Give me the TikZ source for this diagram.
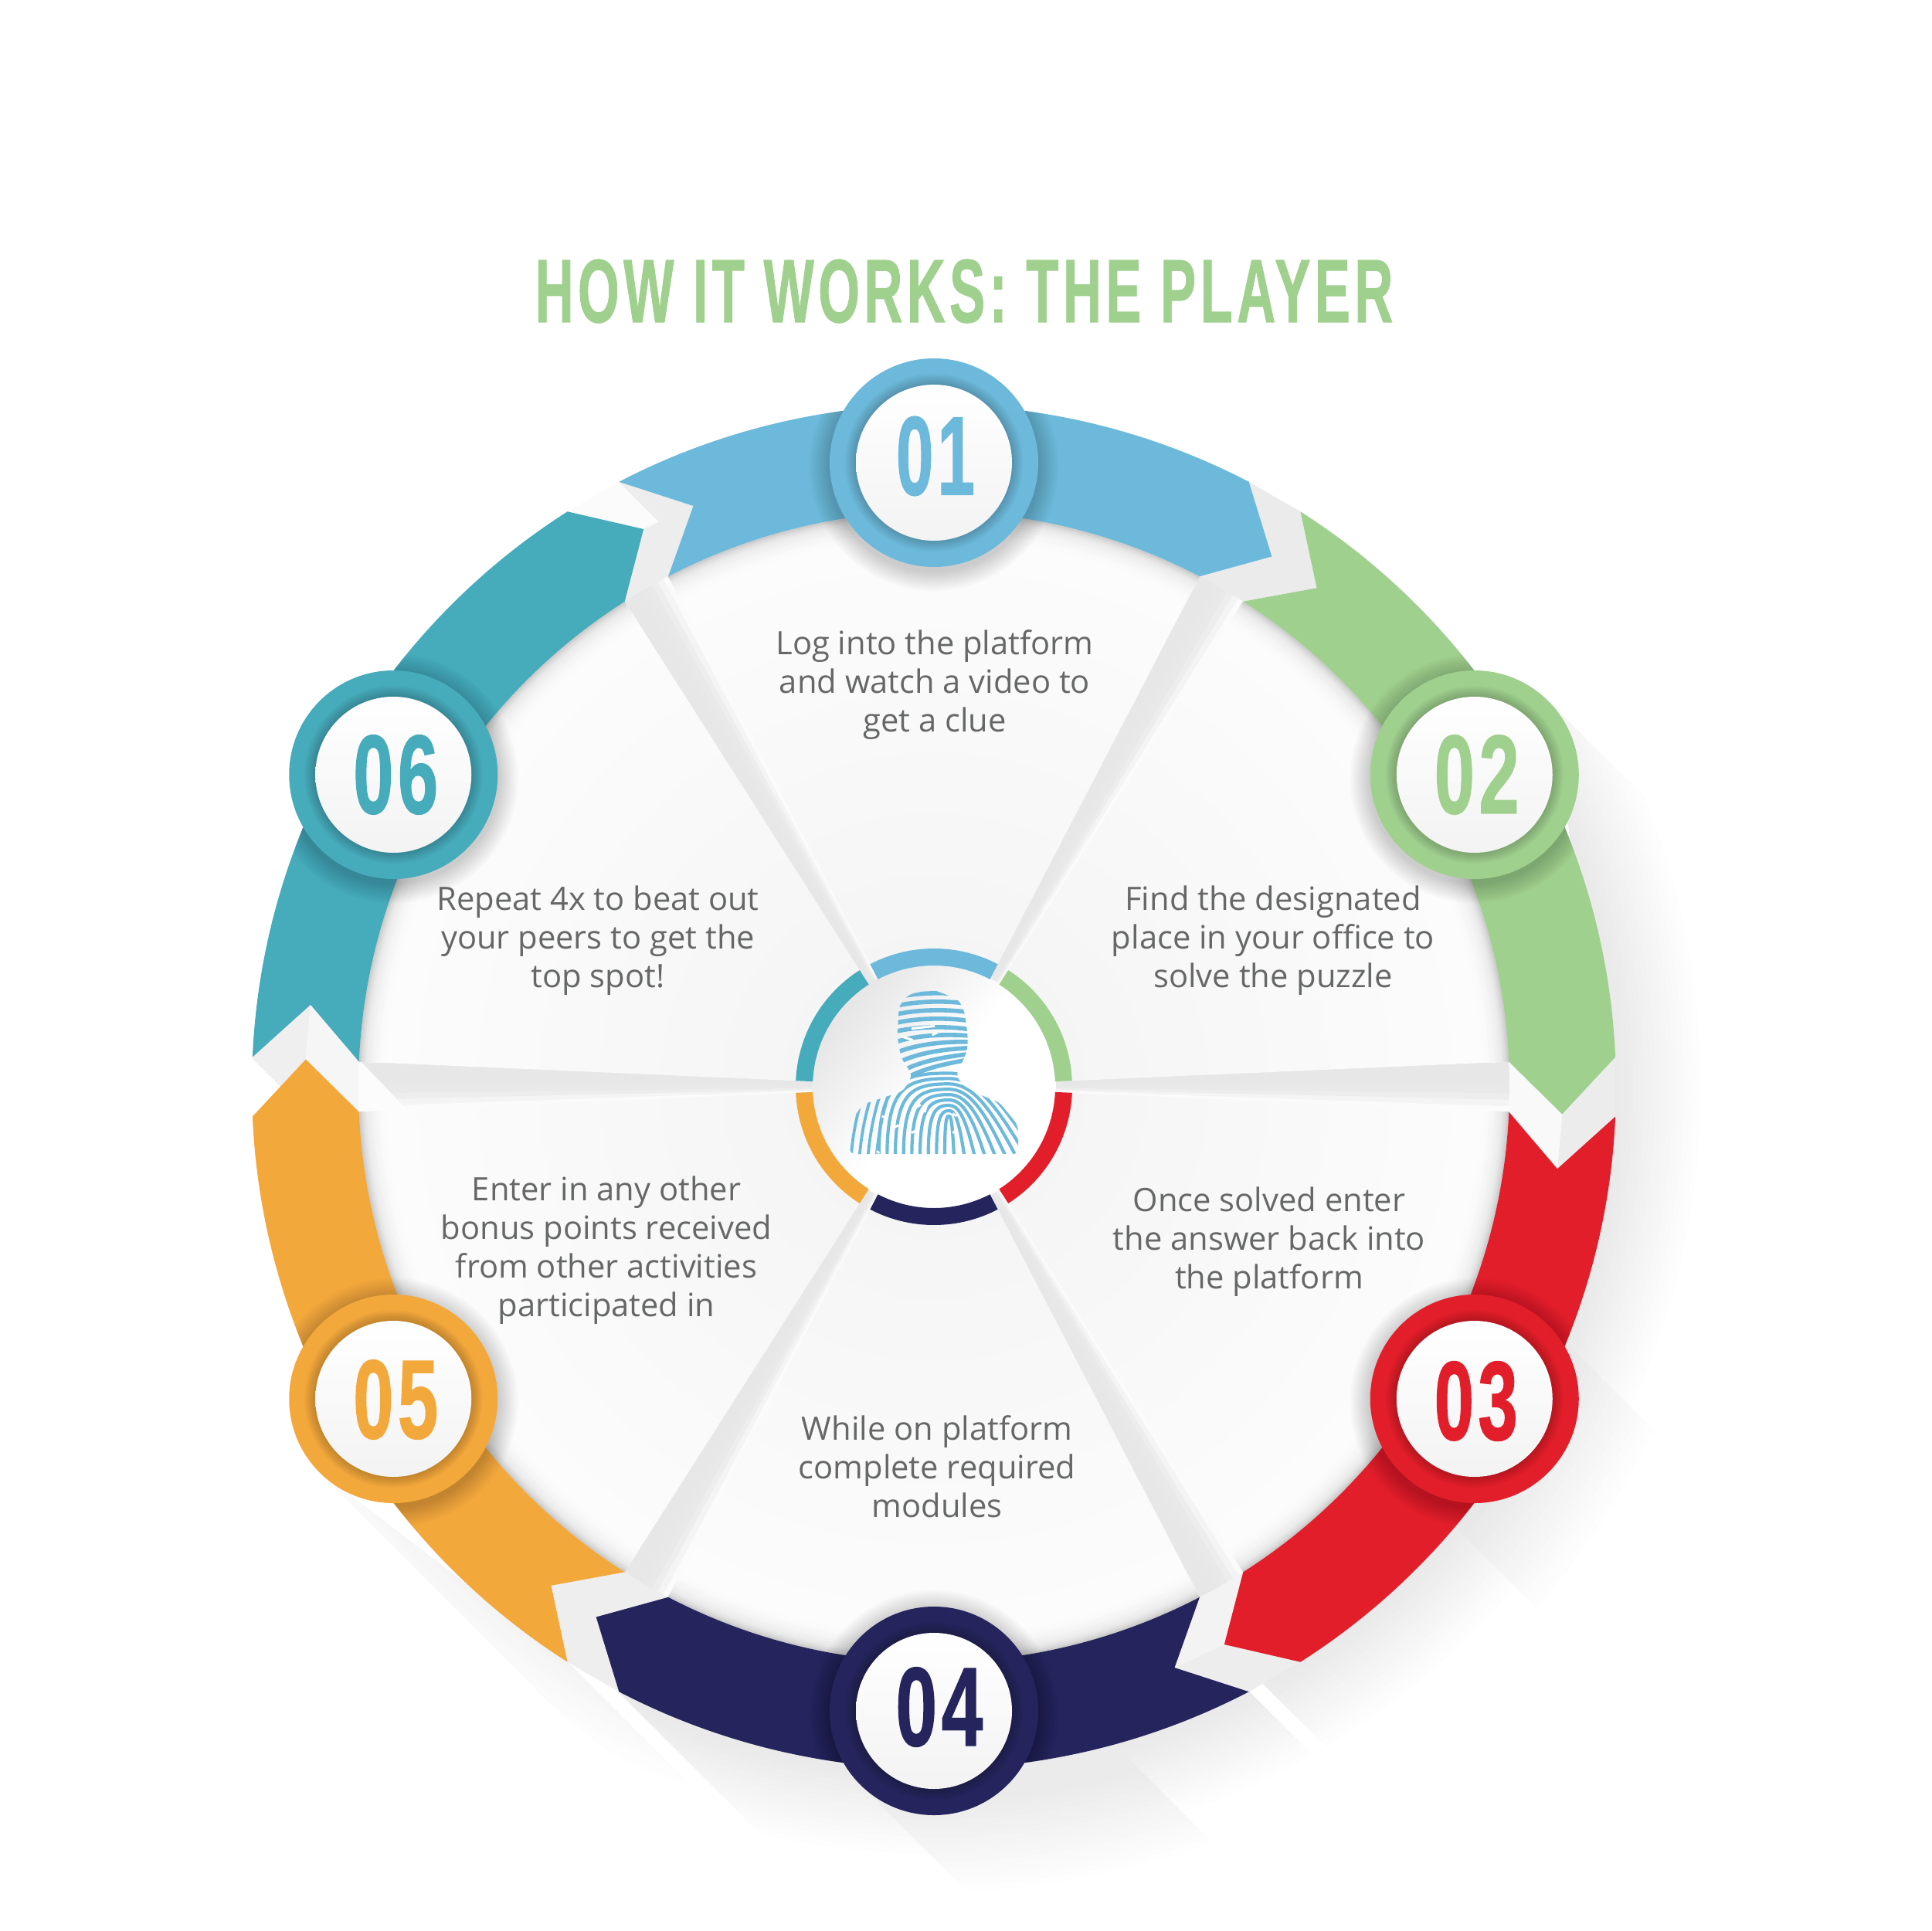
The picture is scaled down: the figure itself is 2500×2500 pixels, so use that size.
\documentclass[tikz,border=0pt]{standalone}
\usepackage{fontspec}
\usepackage{graphicx}
\usetikzlibrary{calc}
\setmainfont{Open Sans}
\newfontfamily\headfont[FakeBold=1.2,LetterSpace=8]{Liberation Sans Bold}
\newfontfamily\numfont[FakeBold=1.2,LetterSpace=6]{Liberation Sans Bold}
\definecolor{cOne}{HTML}{6CB9DB}
\definecolor{cTwo}{HTML}{A0D08E}
\definecolor{cThree}{HTML}{E31E2B}
\definecolor{cFour}{HTML}{25245D}
\definecolor{cFive}{HTML}{F3A83C}
\definecolor{cSix}{HTML}{46ABBB}
\definecolor{bodytext}{HTML}{666767}
\definecolor{F4}{HTML}{F3F3F3}
\tikzset{
  ribbonfill/.style={fill=#1,draw=none},
  bodylabel/.style={text=bodytext,align=center,inner sep=0pt,font=\fontsize{41.7}{50}\selectfont},
  badgeouter/.style={circle,fill=#1,minimum size=270pt,inner sep=0pt},
  badgeinner/.style={circle,top color=white,bottom color=F4,minimum size=202pt,inner sep=0pt},
  digitlabel/.style={text=#1,inner sep=0pt},
}
\newcommand{\longshade}[5]{% P, Q, Rmax, Rmin (all relative to the hub), strength
  \begin{scope}
    \clip (#1) -- ($(#1)+(320,-320)$) -- ($(#2)+(320,-320)$) -- (#2) -- cycle;
    \foreach \i in {0,...,16}{
      \pgfmathsetmacro{\rr}{#3-(#3-#4)*\i/16}
      \pgfmathsetmacro{\pp}{#5*\i/16}
      \fill[black!\pp!white] (0,0) circle[radius=\rr pt];
    }
  \end{scope}
}
\newcommand{\ribbonshape}[2]{% colour, start angle
  \pgfmathsetmacro{\ra}{#2}
  \pgfmathsetmacro{\rb}{#2-55}
  \pgfmathsetmacro{\rt}{#2-60}
  \pgfmathsetmacro{\rn}{#2-5}
  \fill[ribbonfill=#1] (\ra:883) arc[start angle=\ra,end angle=\rb,radius=883pt]
    -- (\rt:814) -- (\rb:745) arc[start angle=\rb,end angle=\ra,radius=745pt]
    -- (\rn:814) -- cycle;
}
\begin{document}
\begin{tikzpicture}[x=1pt,y=1pt]
\useasboundingbox (0,-2500) rectangle (2500,0);
\fill[white] (0,-2500) rectangle (2500,0);

\node[inner sep=0pt,text=cTwo] (title) at (1248,-377)
  {\resizebox{1110pt}{81pt}{\headfont HOW IT WORKS: THE PLAYER}};

\begin{scope}[shift={(1209,-1407)}]
  % long soft shadows on the paper
  \longshade{795,499}{882,-33}{1000}{883}{9}
  \longshade{882,-33}{376,-722}{1000}{883}{9}
  \longshade{795,-309}{605,-499}{1040}{900}{9}
  \longshade{408,-783}{-408,-783}{1000}{883}{9}
  \longshade{95,-713}{-95,-903}{1050}{925}{8}
  \longshade{-474,-745}{-795,-499}{965}{883}{4.5}

  % chevron gaps between ribbons
  \foreach \t/\co/\ci in {0/ECECEC/F9F9F9,60/EBEBEB/EBEBEB,120/FBFBFB/EDEDED,180/EFEFEF/F6F6F6,240/EEEEEE/EEEEEE,300/EDEDED/F3F3F3}{
    \begin{scope}[rotate=\t]
      \definecolor{tmpO}{HTML}{\co}\definecolor{tmpI}{HTML}{\ci}
      \fill[tmpO] (2.5:883) -- (-2.5:814) -- (-7.5:814) -- (-2.5:883) -- cycle;
      \fill[tmpI] (2.5:745) -- (-2.5:814) -- (-7.5:814) -- (-2.5:745) -- cycle;
    \end{scope}
  }
  % the grey stripe of the upper-left gap, and the white tail of the left gap
  \fill[black!7!white] (-408,783) -- (-311,752) -- (-335,710) -- cycle;
  \fill[white] (-884,38) -- (-884,-40) -- (-844,-2) -- cycle;
  % wedge channels between panels, darker on the upper-left side
  \foreach \t/\s in {0/1,60/1,120/1,180/-1,240/-1,300/-1}{
    \begin{scope}[rotate=\t]
      \foreach \k/\g in {0/90.5,1/90.5,2/90.5,3/91,4/91.5,5/93,6/95.5,7/98.5}{
        \pgfmathsetmacro{\aa}{\s*(2.6-\k*0.65)}
        \pgfmathsetmacro{\ab}{\s*(2.6-(\k+1)*0.65-0.1)}
        \fill[white!\g!black] (0,0) -- (\aa:745) -- (\ab:745) -- cycle;
      }
    \end{scope}
  }
  % the left channel ends in a white diagonal
  \fill[white!99!black] (-745,36) -- (-679,-33) -- (-745,-36) -- cycle;
  % the six panels
  \foreach \a in {90,30,-30,-90,-150,150}{
    \pgfmathsetmacro{\pa}{\a+27.5}
    \pgfmathsetmacro{\pb}{\a-27.5}
    \begin{scope}
      \clip (0,0) -- (\pa:745) arc[start angle=\pa,end angle=\pb,radius=745pt] -- cycle;
      \shade[inner color=F4,outer color=white!99!black] (0,0) circle[radius=745pt];
      \foreach \w/\g in {34/98.5,30/98,26/97,22/96,18/94.5,14/93,10/90.5,7/87,4/83,2/80}{
        \draw[line width=2*\w pt,white!\g!black] (\pa+5:745) arc[start angle=\pa+5,end angle=\pb-5,radius=745pt];
      }
    \end{scope}
  }

  % hub
  \shade[top color=black!10!white,bottom color=white,middle color=white,shading angle=50] (0,0) circle[radius=158pt];
  \foreach \a/\c in {90/cOne,30/cTwo,-30/cThree,-90/cFour,-150/cFive,150/cSix}{
    \pgfmathsetmacro{\pa}{\a+27.5}
    \pgfmathsetmacro{\pb}{\a-27.5}
    \fill[\c] (\pa:179) arc[start angle=\pa,end angle=\pb,radius=179pt]
      -- (\pb:157) arc[start angle=\pb,end angle=\pa,radius=157pt] -- cycle;
  }
\end{scope}

% fingerprint figure, drawn in the 3x crop coordinates of the hub
\begin{scope}[shift={(1000,-1200)},x=0.33333pt,y=-0.33333pt]
  \begin{scope}
    \clip[rounded corners=7pt] (500,295) -- (530,262) -- (620,243) -- (720,280) -- (745,325) -- (758,420) -- (758,470) -- (745,510) -- (712,572) -- (735,612) -- (800,650) -- (880,680) -- (953,770) -- (955,882) -- (300,882) -- (303,760) -- (350,690) -- (440,660) -- (505,640) -- (538,590) -- (540,570) -- (500,510) -- (485,430) -- (490,320) -- cycle;
    \foreach \y in {262,295,328,361,394,427,460,493,526,556}{
      \pgfmathsetmacro{\tl}{max(0,\y-400)*0.32}
      \pgfmathsetmacro{\ya}{\y+14+\tl}
      \pgfmathsetmacro{\yb}{\y-8}
      \pgfmathsetmacro{\yc}{\y-10-\tl*0.3}
      \pgfmathsetmacro{\yd}{\y+6-\tl}
      \draw[cOne,line width=5.6pt] (470,\ya) .. controls (560,\yb) and (680,\yc) .. (780,\yd);
    }
    \foreach \d in {20,60,100,140,180,220,260,300,340}{
      \pgfmathsetmacro{\top}{745-\d*0.52}
      \pgfmathsetmacro{\ax}{685-0.8*\d}
      \pgfmathsetmacro{\cx}{685-0.55*\d}
      \pgfmathsetmacro{\dx}{685+0.35*\d}
      \pgfmathsetmacro{\ex}{685+0.62*\d}
      \pgfmathsetmacro{\ey}{\top+0.35*\d}
      \pgfmathsetmacro{\bx}{685+\d}
      \draw[cOne,line width=4.2pt] (\ax,890) .. controls (\ax,\top+30) and (\cx,\top) .. (685,\top) .. controls (\dx,\top) and (\ex,\ey) .. (\bx,890);
    }
    \foreach \x in {305,338,371,404}{
      \draw[cOne,line width=3.8pt] (\x,890) .. controls (\x+8,800) and (\x+22,730) .. (\x+50,640);
    }
    \draw[white,line width=3pt] (425,735) -- (445,745) (560,700) -- (575,690) (700,725) -- (715,735) (540,395) -- (630,385) (500,425) -- (545,440) (640,410) -- (620,420);
    \draw[white,line width=3pt] (600,690) -- (590,720) (540,800) -- (560,790) (405,870) -- (415,880) (700,800) -- (715,790) (470,780) -- (490,770);
  \end{scope}
\end{scope}

\begin{scope}[shift={(1209,-1407)}]
  % ribbons
  \ribbonshape{cOne}{117.5}
  \ribbonshape{cTwo}{57.5}
  \ribbonshape{cThree}{-2.5}
  \ribbonshape{cFour}{-62.5}
  \ribbonshape{cFive}{-122.5}
  \ribbonshape{cSix}{177.5}

  % badges
  \foreach \n/\a/\c/\dw/\ox/\oy in {1/90/cOne/102/2/8.5,2/30/cTwo/110/3/0,3/-30/cThree/108/2/-3,4/-90/cFour/113/7/5,5/-150/cFive/110/3/-1,6/150/cSix/110/3/0}{
    \begin{scope}
      \clip (0,0) circle[radius=883pt];
      \foreach \k in {1,...,12}{
        \fill[black,opacity=0.017] ($(\a:808)+(0,-5)$) circle[radius=135pt+2.2pt*\k];
      }
    \end{scope}
    \node[badgeouter=\c] (ring\n) at (\a:808) {};
    \foreach \k in {1,...,7}{
      \fill[black,opacity=0.028] (ring\n.center) circle[radius=101pt+2pt*\k];
    }
    \node[badgeinner] (disc\n) at (\a:808) {};
    \node[digitlabel=\c] (num\n) at ($(\a:808)+(\ox,\oy)$)
      {\resizebox{\dw pt}{101pt}{\numfont 0\n}};
  }
\end{scope}

% panel texts
\node[bodylabel] (t1) at (1210,-887) {Log into the platform\\and watch a video to\\get a clue};
\node[bodylabel] (t2) at (1648,-1218) {Find the designated\\place in your office to\\solve the puzzle};
\node[bodylabel] (t3) at (1643,-1608) {Once solved enter\\the answer back into\\the platform};
\node[bodylabel] (t4) at (1213,-1899) {While on platform\\complete required\\modules};
\node[bodylabel] (t5) at (785,-1619) {Enter in any other\\bonus points received\\from other activities\\participated in};
\node[bodylabel] (t6) at (774,-1218) {Repeat 4x to beat out\\your peers to get the\\top spot!};
\end{tikzpicture}
\end{document}
